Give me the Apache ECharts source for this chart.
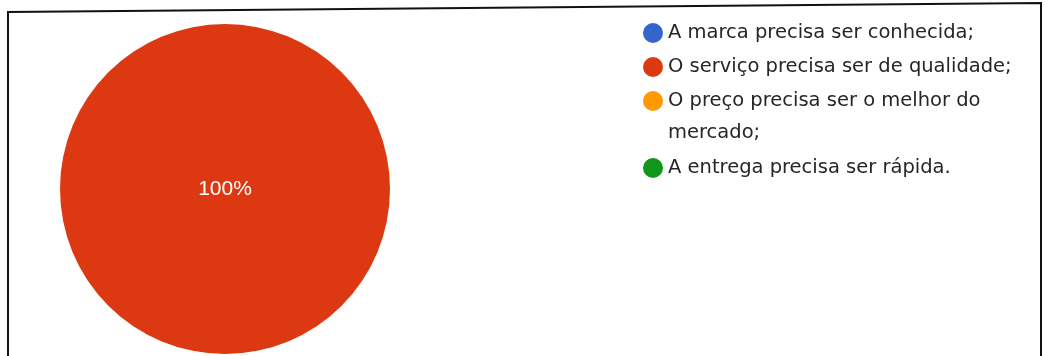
<!DOCTYPE html>
<html>
<head>
<meta charset="utf-8">
<script src="https://cdn.jsdelivr.net/npm/echarts@6/dist/echarts.min.js"></script>
<style>
html,body{margin:0;padding:0;background:#fff;}
#chart{width:1045px;height:356px;}
</style>
</head>
<body>
<div id="chart"></div>
<script>
// Categories (legend labels)
const categories = [
  'A marca precisa ser conhecida;',
  'O serviço precisa ser de qualidade;',
  'O preço precisa ser o melhor do mercado;',
  'A entrega precisa ser rápida.'
];
// Share of answers (percent)
const values = [0, 100, 0, 0];
// Slice colours
const colors = ['#3366CC', '#DC3912', '#FF9900', '#109618'];
// Legend text as it wraps in the reference
const legendLine1 = 'O preço precisa ser o melhor do';
const legendLine2 = 'mercado;';

const chart = echarts.init(document.getElementById('chart'), null, {renderer: 'canvas'});

const legendText = {
  fontFamily: 'DejaVu Sans',
  fontSize: 19.5,
  lineHeight: 34,
  color: '#262626'
};

const option = {
  backgroundColor: '#fff',
  animation: false,
  color: colors,
  legend: [
    {
      orient: 'vertical',
      left: 643,
      top: 16,
      padding: 0,
      itemGap: 0,
      itemWidth: 20,
      itemHeight: 20,
      icon: 'circle',
      data: categories.slice(0, 3),
      formatter: function (name) { return name === categories[2] ? legendLine1 : name; },
      textStyle: legendText,
      selectedMode: false
    },
    {
      orient: 'vertical',
      left: 643,
      top: 151,
      padding: 0,
      itemGap: 0,
      itemWidth: 20,
      itemHeight: 20,
      icon: 'circle',
      data: categories.slice(3),
      textStyle: legendText,
      selectedMode: false
    }
  ],
  graphic: [
    {
      type: 'text',
      left: 668,
      top: 123,
      style: {
        text: legendLine2,
        font: '19.5px "DejaVu Sans"',
        fill: '#262626'
      }
    },
    {
      type: 'polyline',
      shape: {points: [[8, 360], [8, 12], [1041, 3], [1041, 360]]},
      style: {stroke: '#111', lineWidth: 2, fill: null}
    }
  ],
  series: [
    {
      type: 'pie',
      center: [225, 189],
      radius: 165,
      startAngle: 90,
      clockwise: true,
      avoidLabelOverlap: false,
      label: {
        show: true,
        position: 'center',
        color: '#fff',
        fontFamily: 'Liberation Sans',
        fontSize: 21,
        formatter: function (p) { return p.value > 0 ? Math.round(p.percent) + '%' : ''; }
      },
      labelLine: {show: false},
      emphasis: {disabled: true},
      itemStyle: {borderWidth: 0},
      data: categories.map(function (c, i) {
        return {name: c, value: values[i], itemStyle: {color: colors[i]}};
      })
    }
  ]
};
chart.setOption(option);
</script>
</body>
</html>
